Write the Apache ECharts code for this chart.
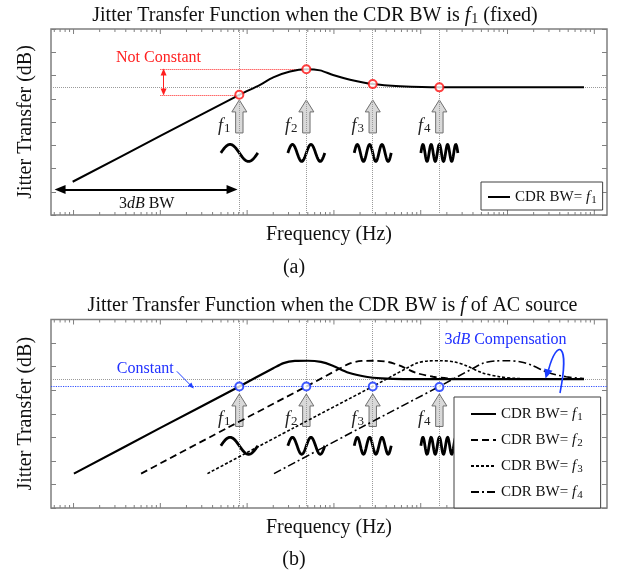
<!DOCTYPE html>
<html><head><meta charset="utf-8">
<script src="https://cdn.jsdelivr.net/npm/echarts@6/dist/echarts.min.js"></script>
<style>html,body{margin:0;padding:0;background:#fff}#c{width:621px;height:576px}</style>
</head><body><div id="c"></div>
<script>
// ---------------- data (relative frequency units, gain in axis units) ----------------
const fPoints = [81.3, 481, 2800, 16400];          // f1..f4
const fNames  = ['1', '2', '3', '4'];
const waveCycles = [1, 2, 3, 4.5];
// axis ticks
const decadeTicks = [1, 10, 100, 1000, 10000, 100000, 1000000];
const minorMult   = [2, 3, 4, 5, 6, 7, 8, 9];

// (a) CDR BW = f1 (fixed)
const aFreq = [0.977, 10, 81.3, 141, 200, 312, 483, 692, 977, 1535, 2800, 5780, 16400, 760000];
const aGain = [1.43, 3.40, 5.17, 5.60, 5.92, 6.17, 6.27, 6.22, 6.02, 5.82, 5.63, 5.54, 5.49, 5.49];
const aPointGain = [5.17, 6.27, 5.63, 5.49];
const aRefLevel = 5.49;
const aArrowTip = 4.95, aArrowBottom = 3.53, aWaveLevel = 2.67;
const aNoteX = 10, aNoteArrowX = 10.9;
const aBwLeft = 0.70, aBwRight = 67.0, aBwLevel = 1.1;

// (b) CDR BW = f of AC source
const b1Freq = [1.01, 10, 81.3, 200, 263, 355, 501, 708, 955, 1480, 2340, 3550, 6310, 760000];
const b2Freq = [6.0, 59.2, 481, 1180, 1556, 2100, 2965, 4190, 5650, 8750, 13870, 21000, 37300, 760000];
const b3Freq = [34.9, 344, 2800, 6870, 9060, 12220, 17260, 24380, 32890, 50930, 80720, 122200, 217300, 760000];
const bGain  = [1.46, 3.40, 5.16, 5.93, 6.15, 6.24, 6.25, 6.20, 6.05, 5.74, 5.57, 5.50, 5.47, 5.47];
const b4Freq = [204, 2014, 16400, 40200, 53000, 71500, 101000, 143000, 192000, 298000, 472000, 715000, 760000];
const b4Gain = [1.46, 3.40, 5.16, 5.93, 6.15, 6.24, 6.25, 6.20, 6.05, 5.74, 5.57, 5.50, 5.49];
const bPointGain = [5.16, 5.16, 5.16, 5.13];
const bRefLevel = 5.47, bConstLevel = 5.16;
const bArrowTip = 4.84, bArrowBottom = 3.46, bWaveLevel = 2.64;
const bConstFrom = [15.5, 5.80], bConstTo = [23.0, 5.16];

// ---------------- helpers ----------------
const SERIF = "'Liberation Serif','Times New Roman',serif";
const GRAY = '#7f7f7f';
const zip = (xs, ys) => xs.map((x, i) => [x, ys[i]]);
function richSet(fs) {
  return {
    i: { fontFamily: SERIF, fontStyle: 'italic', fontSize: fs, lineHeight: fs },
    s: { fontFamily: SERIF, fontSize: Math.round(fs * 0.7), lineHeight: Math.round(fs * 0.7),
         verticalAlign: 'bottom', padding: [Math.round(fs * 0.55), 0, 0, 1] },
    n: { fontFamily: SERIF, fontSize: fs, lineHeight: fs }
  };
}
const xTickData = [];
decadeTicks.forEach(d => xTickData.push([d, 1]));
[0.1].concat(decadeTicks).forEach(d => minorMult.forEach(m => {
  const v = d * m; if (v > 0.56 && v < 1.39e6) xTickData.push([v, 0]);
}));

function renderXTick(params, api) {
  const v = api.value(0), major = api.value(1);
  const p = api.coord([v, 0]);
  const cs = params.coordSys;
  const len = major ? 5 : 3;
  return { type: 'group', children: [
    { type: 'line', shape: { x1: p[0], y1: cs.y + cs.height, x2: p[0], y2: cs.y + cs.height - len }, style: { stroke: GRAY, lineWidth: 1 } },
    { type: 'line', shape: { x1: p[0], y1: cs.y, x2: p[0], y2: cs.y + len }, style: { stroke: GRAY, lineWidth: 1 } }
  ]};
}
function renderArrow(params, api) {
  const tip = api.coord([api.value(0), api.value(1)]);
  const bot = api.coord([api.value(0), api.value(2)]);
  const x = tip[0], hw = 7.5, sw = 3.7, hh = 12;
  const n = fNames[params.dataIndex];
  return { type: 'group', children: [
    { type: 'polygon', shape: { points: [[x, tip[1]], [x + hw, tip[1] + hh], [x + sw, tip[1] + hh], [x + sw, bot[1]], [x - sw, bot[1]], [x - sw, tip[1] + hh], [x - hw, tip[1] + hh]] },
      style: { fill: '#d9d9d9', stroke: '#6f6f6f', lineWidth: 1 } },
    { type: 'text', x: x - 15, y: bot[1] - 7,
      style: { text: '{i|f}{s|' + n + '}', rich: richSet(18), align: 'center', verticalAlign: 'middle', fill: '#222' } }
  ]};
}
function renderWave(params, api) {
  const c = api.coord([api.value(0), api.value(1)]);
  const cyc = api.value(2);
  const w = 37, A = 8.5, pts = [];
  for (let k = 0; k <= 80; k++) { const t = k / 80; pts.push([c[0] - w / 2 + w * t, c[1] - A * Math.sin(2 * Math.PI * cyc * t)]); }
  return { type: 'polyline', shape: { points: pts }, style: { stroke: '#000', lineWidth: 2.8, fill: null, lineJoin: 'round' } };
}

const chart = echarts.init(document.getElementById('c'), null, { width: 621, height: 576 });

function xAxisCfg(gi) {
  return { type: 'log', logBase: 10, gridIndex: gi, min: 0.55, max: 1.40e6,
    axisLine: { show: false }, axisTick: { show: false }, axisLabel: { show: false }, splitLine: { show: false },
    minorTick: { show: false }, minorSplitLine: { show: false },
    name: 'Frequency (Hz)', nameLocation: 'middle', nameGap: 10,
    nameTextStyle: { fontFamily: SERIF, fontSize: 20, color: '#111' } };
}
function yAxisCfg(gi, right) {
  const c = { type: 'value', gridIndex: gi, min: 0, max: 8, interval: 1, position: right ? 'right' : 'left',
    axisLine: { show: false }, axisLabel: { show: false }, splitLine: { show: false },
    axisTick: { show: true, inside: true, length: 5, lineStyle: { color: GRAY } } };
  if (!right) {
    c.name = 'Jitter Transfer (dB)'; c.nameLocation = 'middle'; c.nameGap = 15;
    c.nameTextStyle = { fontFamily: SERIF, fontSize: 20, color: '#111' };
  }
  return c;
}
const dotted = { color: '#9a9a9a', type: 'dotted', width: 1 };
const legendText = { fontFamily: SERIF, fontSize: 15, color: '#111', lineHeight: 18, rich: richSet(15) };
const legendFmt = name => 'CDR BW= {i|f}{s|' + name.slice(1) + '}';
const noSym = { color: '#000', opacity: 0 };

const option = {
  animation: false,
  backgroundColor: '#fff',
  grid: [
    { left: 51, top: 29, width: 556, height: 186, show: true, borderColor: GRAY, borderWidth: 1.5 },
    { left: 51, top: 319.5, width: 556, height: 188.5, show: true, borderColor: GRAY, borderWidth: 1.5 }
  ],
  xAxis: [xAxisCfg(0), xAxisCfg(1)],
  yAxis: [yAxisCfg(0, false), yAxisCfg(0, true), yAxisCfg(1, false), yAxisCfg(1, true)],
  legend: [
    { data: ['a1'], left: 481, top: 182, orient: 'vertical', padding: [5, 6, 4, 6], itemWidth: 22, itemHeight: 14,
      backgroundColor: '#fff', borderColor: '#404040', borderWidth: 1, borderRadius: 0, selectedMode: false,
      itemStyle: { opacity: 0 }, textStyle: legendText, formatter: legendFmt },
    { data: ['b1', 'b2', 'b3', 'b4'], left: 454, top: 397, orient: 'vertical', padding: [7, 18, 7, 16], itemGap: 7,
      itemWidth: 25, itemHeight: 14, backgroundColor: '#fff', borderColor: '#404040', borderWidth: 1, borderRadius: 0,
      selectedMode: false, itemStyle: { opacity: 0 }, textStyle: legendText, formatter: legendFmt }
  ],
  series: [
    // ticks
    { type: 'custom', xAxisIndex: 0, yAxisIndex: 0, data: xTickData, renderItem: renderXTick, silent: true, z: 1 },
    { type: 'custom', xAxisIndex: 1, yAxisIndex: 2, data: xTickData, renderItem: renderXTick, silent: true, z: 1 },
    // reference dotted lines
    { type: 'line', xAxisIndex: 0, yAxisIndex: 0, data: [], z: 1, silent: true,
      markLine: { silent: true, symbol: 'none', label: { show: false }, lineStyle: dotted,
        data: fPoints.map(f => ({ xAxis: f })).concat([{ yAxis: aRefLevel }]) } },
    { type: 'line', xAxisIndex: 1, yAxisIndex: 2, data: [], z: 1, silent: true,
      markLine: { silent: true, symbol: 'none', label: { show: false }, lineStyle: dotted,
        data: fPoints.map(f => ({ xAxis: f })).concat([{ yAxis: bRefLevel }]) } },
    { type: 'line', xAxisIndex: 1, yAxisIndex: 2, data: [], z: 1, silent: true,
      markLine: { silent: true, symbol: 'none', label: { show: false }, lineStyle: { color: '#3050ff', type: 'dotted', width: 1.2 },
        data: [{ yAxis: bConstLevel }] } },
    // red annotations (a)
    { type: 'line', xAxisIndex: 0, yAxisIndex: 0, data: [], z: 3, silent: true,
      markLine: { silent: true, symbol: 'none', label: { show: false }, lineStyle: { color: '#ff2020', type: 'dotted', width: 1 },
        data: [
          [{ coord: [aNoteX, aPointGain[1]] }, { coord: [fPoints[1], aPointGain[1]] }],
          [{ coord: [aNoteX, aPointGain[0]] }, { coord: [fPoints[0], aPointGain[0]] }]
        ] } },
    { type: 'line', xAxisIndex: 0, yAxisIndex: 0, data: [], z: 3, silent: true,
      markLine: { silent: true, symbol: ['triangle', 'triangle'], symbolSize: [6, 7], label: { show: false },
        lineStyle: { color: '#ff2020', type: 'solid', width: 1 }, itemStyle: { color: '#ff2020' },
        data: [[{ coord: [aNoteArrowX, aPointGain[1] - 0.12] }, { coord: [aNoteArrowX, aPointGain[0] + 0.12] }]] } },
    // 3dB BW arrow
    { type: 'line', xAxisIndex: 0, yAxisIndex: 0, data: [], z: 3, silent: true,
      markLine: { silent: true, symbol: ['triangle', 'triangle'], symbolSize: [9, 11], label: { show: false },
        lineStyle: { color: '#000', type: 'solid', width: 2 }, itemStyle: { color: '#000' },
        data: [[{ coord: [aBwLeft, aBwLevel] }, { coord: [aBwRight, aBwLevel] }]] } },
    // Constant arrow (b)
    { type: 'line', xAxisIndex: 1, yAxisIndex: 2, data: [], z: 3, silent: true,
      markLine: { silent: true, symbol: ['none', 'triangle'], symbolSize: [5, 6], label: { show: false },
        lineStyle: { color: '#2040ff', type: 'solid', width: 1 }, itemStyle: { color: '#2040ff' },
        data: [[{ coord: bConstFrom }, { coord: bConstTo }]] } },
    // arrows and waves
    { type: 'custom', xAxisIndex: 0, yAxisIndex: 0, renderItem: renderArrow, z: 4, silent: true,
      data: fPoints.map(f => [f, aArrowTip, aArrowBottom]) },
    { type: 'custom', xAxisIndex: 1, yAxisIndex: 2, renderItem: renderArrow, z: 4, silent: true,
      data: fPoints.map(f => [f, bArrowTip, bArrowBottom]) },
    { type: 'custom', xAxisIndex: 0, yAxisIndex: 0, renderItem: renderWave, z: 4, silent: true,
      data: fPoints.map((f, i) => [f, aWaveLevel, waveCycles[i]]) },
    { type: 'custom', xAxisIndex: 1, yAxisIndex: 2, renderItem: renderWave, z: 2, silent: true,
      data: fPoints.map((f, i) => [f, bWaveLevel, waveCycles[i]]) },
    // curves
    { name: 'a1', type: 'line', xAxisIndex: 0, yAxisIndex: 0, data: zip(aFreq, aGain), smooth: 0.3, symbol: 'none',
      lineStyle: { color: '#000', width: 2 }, itemStyle: noSym, z: 5 },
    { name: 'b1', type: 'line', xAxisIndex: 1, yAxisIndex: 2, data: zip(b1Freq, bGain), smooth: 0.3, symbol: 'none',
      lineStyle: { color: '#000', width: 2.2 }, itemStyle: noSym, z: 5 },
    { name: 'b2', type: 'line', xAxisIndex: 1, yAxisIndex: 2, data: zip(b2Freq, bGain), smooth: 0.3, symbol: 'none',
      lineStyle: { color: '#000', width: 1.8, type: [7, 4] }, itemStyle: noSym, z: 5 },
    { name: 'b3', type: 'line', xAxisIndex: 1, yAxisIndex: 2, data: zip(b3Freq, bGain), smooth: 0.3, symbol: 'none',
      lineStyle: { color: '#000', width: 1.6, type: [3, 2] }, itemStyle: noSym, z: 5 },
    { name: 'b4', type: 'line', xAxisIndex: 1, yAxisIndex: 2, data: zip(b4Freq, b4Gain), smooth: 0.3, symbol: 'none',
      lineStyle: { color: '#000', width: 1.6, type: [8, 3, 2, 3] }, itemStyle: noSym, z: 5 },
    // points
    { type: 'scatter', xAxisIndex: 0, yAxisIndex: 0, data: zip(fPoints, aPointGain), symbol: 'emptyCircle', symbolSize: 8,
      itemStyle: { color: '#ff1010', borderColor: '#ff1010', borderWidth: 2.6 }, z: 6, silent: true },
    { type: 'scatter', xAxisIndex: 1, yAxisIndex: 2, data: zip(fPoints, bPointGain), symbol: 'emptyCircle', symbolSize: 8,
      itemStyle: { color: '#1030ff', borderColor: '#1030ff', borderWidth: 2.6 }, z: 6, silent: true }
  ],
  graphic: [
    { type: 'text', x: 315, y: 16, z: 10, style: { text: 'Jitter Transfer Function when the CDR BW is {i|f}{s|1} (fixed)',
      rich: richSet(20), fontFamily: SERIF, fontSize: 20, fill: '#111', align: 'center', verticalAlign: 'middle' } },
    { type: 'text', x: 332.5, y: 306, z: 10, style: { text: 'Jitter Transfer Function when the CDR BW is {i|f} of AC source',
      rich: richSet(20), fontFamily: SERIF, fontSize: 20, fill: '#111', align: 'center', verticalAlign: 'middle' } },
    { type: 'text', x: 294, y: 268, z: 10, style: { text: '(a)', fontFamily: SERIF, fontSize: 20, fill: '#111', align: 'center', verticalAlign: 'middle' } },
    { type: 'text', x: 294, y: 560, z: 10, style: { text: '(b)', fontFamily: SERIF, fontSize: 20, fill: '#111', align: 'center', verticalAlign: 'middle' } },
    { type: 'text', x: 158.5, y: 57.7, z: 10, style: { text: 'Not Constant', fontFamily: SERIF, fontSize: 16, fill: '#ff2020', align: 'center', verticalAlign: 'middle' } },
    { type: 'text', x: 146.7, y: 203.3, z: 10, style: { text: '3{i|dB} BW', rich: { i: { fontFamily: SERIF, fontStyle: 'italic', fontSize: 16 } },
      fontFamily: SERIF, fontSize: 16, fill: '#111', align: 'center', verticalAlign: 'middle' } },
    { type: 'text', x: 145.3, y: 369, z: 10, style: { text: 'Constant', fontFamily: SERIF, fontSize: 16, fill: '#2030ff', align: 'center', verticalAlign: 'middle' } },
    { type: 'text', x: 505.5, y: 339.3, z: 10, style: { text: '3{i|dB} Compensation', rich: { i: { fontFamily: SERIF, fontStyle: 'italic', fontSize: 16, fill: '#2030ff' } },
      fontFamily: SERIF, fontSize: 16, fill: '#2030ff', align: 'center', verticalAlign: 'middle' } },
    { type: 'bezierCurve', z: 10, shape: { x1: 560, y1: 393, cpx1: 570, cpy1: 342, cpx2: 557, cpy2: 338, x2: 548.5, y2: 370 },
      style: { stroke: '#1a3cff', lineWidth: 1.6, fill: null } },
    { type: 'polygon', z: 10, shape: { points: [[545.5, 378.5], [544.2, 368.5], [552.5, 370.8]] }, style: { fill: '#1a3cff' } }
  ]
};
chart.setOption(option);
</script>
</body></html>
